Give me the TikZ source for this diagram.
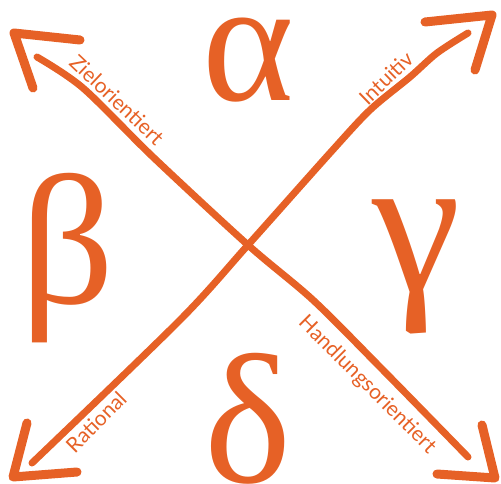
\documentclass[tikz,border=0pt]{standalone}
\usepackage{fontspec}
\setmainfont{Lato}
\newfontfamily\greekfont{Liberation Serif}
\definecolor{orng}{RGB}{230,97,38}
\begin{document}
\begin{tikzpicture}[x=1bp,y=-1bp,
  stroke/.style={draw=orng, line width=7bp, line cap=round, line join=round},
  head/.style={draw=orng, line width=9bp, line cap=round, line join=round},
  lbl/.style={text=orng, font=\fontsize{21bp}{21bp}\selectfont, inner sep=0pt},
  greek/.style={text=orng, font=\greekfont\fontsize{185bp}{185bp}\selectfont, inner sep=0pt, anchor=base}]
\useasboundingbox (0,0) rectangle (501,484);
% line 1 (top-left to bottom-right)
\coordinate (a1) at (37,57);
\coordinate (a2) at (83,88);
\coordinate (a3) at (153,157);
\coordinate (c) at (248,245);
\coordinate (a5) at (313,300);
\coordinate (a6) at (380,367);
\coordinate (a7) at (468,457);
\draw[stroke] plot[smooth, tension=0.5] coordinates {(a1) (a2) (a3) (c) (a5) (a6) (a7)};
% line 2 (top-right to bottom-left)
\coordinate (b1) at (468,33);
\coordinate (b2) at (437,53);
\coordinate (b3) at (410,77);
\coordinate (b4) at (370,110);
\coordinate (b5) at (330,153);
\coordinate (b7) at (180,320);
\coordinate (b8) at (32,463);
\draw[stroke] plot[smooth, tension=0.5] coordinates {(b1) (b2) (b3) (b4) (b5) (c) (b7) (b8)};
% arrow heads
\coordinate (tl) at (14,33);
\coordinate (tr) at (492,15);
\coordinate (bl) at (13,477);
\coordinate (br) at (495,478);
\draw[head] (80,40) -- (tl) -- (33,88);
\draw[head] (425,22) -- (tr) -- (475,70);
\draw[head] (27,423) -- (bl) -- (77,472);
\draw[head] (482,425) -- (br) -- (437,474);
% labels
\node[lbl, rotate=-43.5] (zl) at (117,100) {Zielorientiert};
\node[lbl, rotate=44] (in) at (386,78) {Intuitiv};
\node[lbl, rotate=45] (ra) at (96,422) {Rational};
\node[lbl, rotate=-45] (ha) at (367,385) {Handlungsorientiert};
% greek letters
\node[greek, font=\greekfont\fontsize{175bp}{175bp}\selectfont] (al) at (248,101) {α};
\node[greek] (be) at (68,303) {β};
\node[greek, font=\greekfont\fontsize{200bp}{200bp}\selectfont] (ga) at (417,291) {γ};
\node[greek] (de) at (248,482) {δ};
\end{tikzpicture}
\end{document}
